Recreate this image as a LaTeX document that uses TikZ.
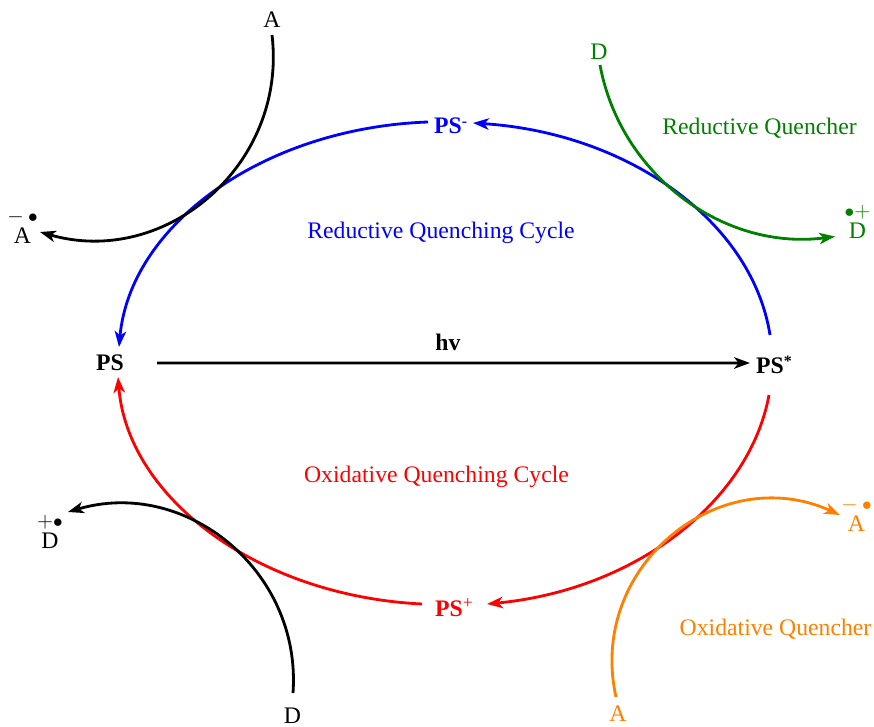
\documentclass[tikz,border=0pt]{standalone}
\usepackage{fontspec}
\setmainfont{Liberation Serif}
\usepackage{tikz}
\usetikzlibrary{arrows.meta}

\definecolor{qgreen}{RGB}{0,128,0}
\definecolor{qorange}{RGB}{255,128,0}
\newcommand{\radmark}[2]{\ooalign{#2\cr\hidewidth\raisebox{12pt}{#1}\hidewidth\cr}}
\newcommand{\negrad}{\fontsize{12}{12}\selectfont$-$\fontsize{11}{11}\selectfont$\mkern4mu\bullet$}
\newcommand{\posrad}{\fontsize{11}{11}\selectfont$\bullet$\fontsize{12}{12}\selectfont$+$}
\newcommand{\radpos}{\fontsize{12}{12}\selectfont$+$\fontsize{11}{11}\selectfont$\bullet$}

\begin{document}
\begin{tikzpicture}[
    x=0.02cm, y=0.02cm,
    spec/.style={font=\fontsize{13.5}{16}\selectfont\bfseries, inner sep=0pt, text height=8.9pt, text depth=0pt},
    mol/.style={font=\fontsize{13.5}{16}\selectfont, inner sep=0pt, text height=8.9pt, text depth=0pt},
    note/.style={font=\fontsize{13.5}{16}\selectfont, inner sep=0pt},
    cyc/.style={-{Stealth[length=9pt, width=6.5pt, inset=2.5pt]}, line width=1.6pt},
    quench/.style={-{Stealth[length=9pt, width=6.5pt, inset=2.5pt]}, line width=1.6pt},
]
\useasboundingbox (0,0) rectangle (874,726);

% Photosensitizer states
\node[spec] (ps) at (110,363) {PS};
\node[spec] (psstar) at (770,360.5) {PS\rlap{\raisebox{4pt}{\fontsize{9}{9}\selectfont *}}};
\node[spec, blue] (psminus) at (448,600) {PS\rlap{\raisebox{4pt}{\fontsize{9}{9}\selectfont -}}};
\node[spec, red] (psplus) at (449,117) {PS\rlap{\raisebox{5pt}{\fontsize{10}{10}\selectfont\mdseries +}}};
\node[spec] (hv) at (448,383) {hv};

% Quenchers and their radical ions
\node[mol] (atop) at (272,706) {A};
\node[mol] (aleft) at (22.5,490) {\radmark{\negrad}{A}};
\node[mol, qgreen] (dtop) at (599,674.5) {D};
\node[mol, qgreen] (dright) at (857.5,495.5) {\radmark{\posrad}{D}};
\node[mol] (dbot) at (292.5,10.5) {D};
\node[mol] (dleft) at (50,185.5) {\radmark{\radpos}{D}};
\node[mol, qorange] (abot) at (618,12) {A};
\node[mol, qorange] (aright) at (856.5,202.5) {\radmark{\negrad}{A}};

% Captions
\node[note, blue] (rqc) at (441,493) {Reductive Quenching Cycle};
\node[note, red] (oqc) at (436.5,249) {Oxidative Quenching Cycle};
\node[note, qgreen] (rq) at (759.5,598) {Reductive Quencher};
\node[note, qorange] (oq) at (775.5,97) {Oxidative Quencher};

% === Excitation ===
\draw[cyc] ([shift={(47,0)}]ps.center) -- ([shift={(-20,2.5)}]psstar.center);

% === Reductive cycle (blue) ===
\draw[cyc, blue] ([shift={(0,30.5)}]psstar.center) .. controls +(-18,114) and +(155,-10) .. ([shift={(25,3)}]psminus.center);
\draw[cyc, blue] ([shift={(-20,4)}]psminus.center) .. controls +(-165,-6) and +(11,122) .. ([shift={(9,16)}]ps.center);

% === Oxidative cycle (red) ===
\draw[cyc, red] ([shift={(-1,-29.5)}]psstar.center) .. controls +(-20,-108) and +(147,14) .. ([shift={(38,5)}]psplus.center);
\draw[cyc, red] ([shift={(-27,5)}]psplus.center) .. controls +(-164,8) and +(9.5,-121) .. ([shift={(8,-14)}]ps.center);

% === Quencher arcs ===
\draw[quench] ([shift={(0,-15)}]atop.center) .. controls +(15.4,-129.8) and +(125.6,-36.2) .. ([shift={(17.5,4)}]aleft.center);
\draw[quench, qgreen] ([shift={(1,-13.5)}]dtop.center) .. controls +(20.4,-110.3) and +(-111.2,-14.6) .. ([shift={(-22.5,-6)}]dright.center);
\draw[quench] ([shift={(0.5,22.5)}]dbot.center) .. controls +(8.8,122.3) and +(117.6,34.8) .. ([shift={(18,28.5)}]dleft.center);
\draw[quench, qorange] ([shift={(-2,17)}]abot.center) .. controls +(-29,129.9) and +(-121.2,55) .. ([shift={(-16.5,8.5)}]aright.center);

\end{tikzpicture}
\end{document}
